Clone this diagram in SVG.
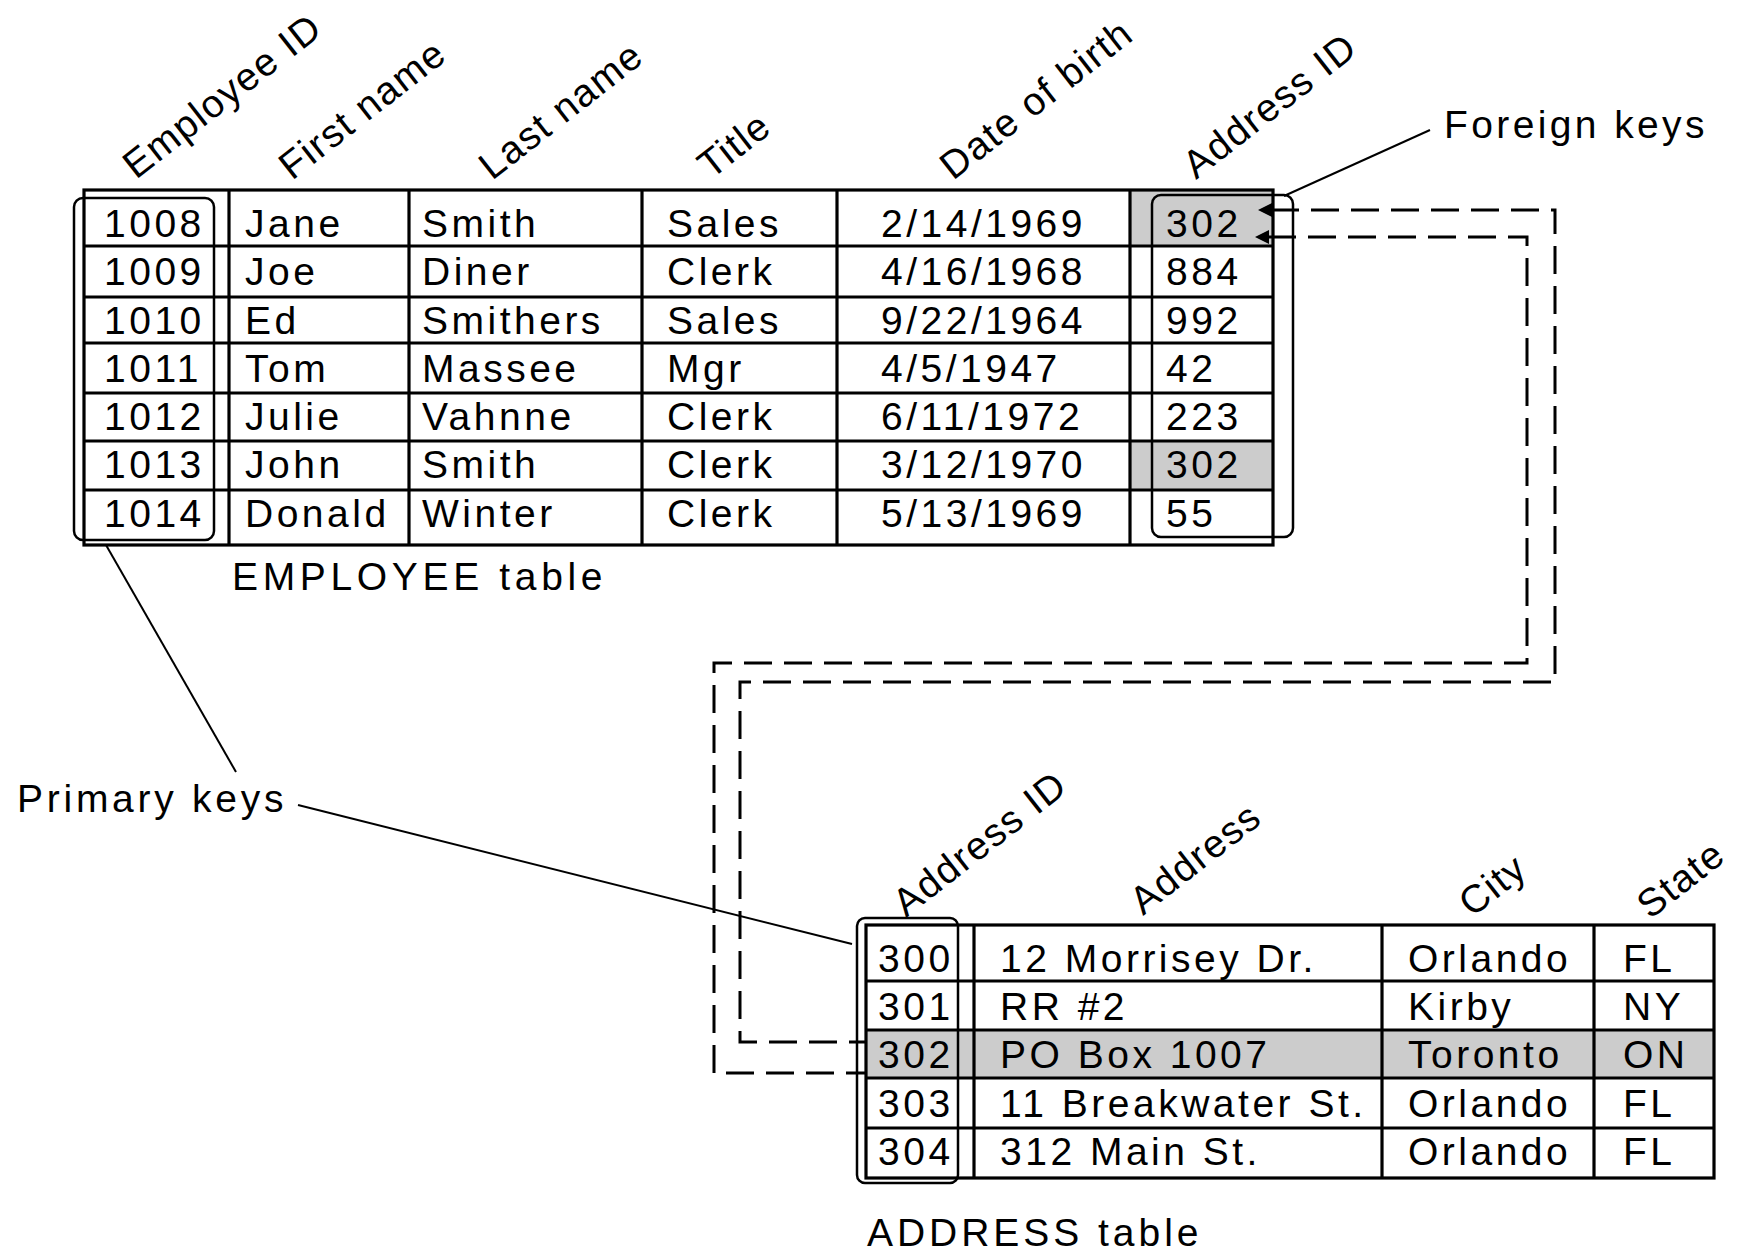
<svg xmlns="http://www.w3.org/2000/svg" width="1742" height="1252" viewBox="0 0 1742 1252">
<style>
  text { font-family: "Liberation Sans", Arial, sans-serif; font-size: 39px; letter-spacing: 3.5px; fill: #000; }
  .hdr { letter-spacing: 1.5px; }
  .grid { fill: none; stroke: #000; stroke-width: 3.2; }
  .line { stroke: #000; stroke-width: 3.2; }
  .shade { fill: #cccccc; }
  .key { fill: none; stroke: #000; stroke-width: 2.5; }
  .dash { fill: none; stroke: #000; stroke-width: 3; stroke-dasharray: 28 12; }
  .lead { fill: none; stroke: #000; stroke-width: 2; }
</style>
<defs>
  <marker id="tip" viewBox="0 0 14 14" refX="1" refY="7" markerWidth="14" markerHeight="14" markerUnits="userSpaceOnUse" orient="auto-start-reverse">
    <path d="M0,0 L14,7 L0,14 Z" fill="#000"/>
  </marker>
</defs>
<rect width="1742" height="1252" fill="#fff"/>

<g id="employee-table">
  <rect class="shade" x="1130" y="190" width="143" height="56"/>
  <rect class="shade" x="1130" y="441" width="143" height="49"/>
  <rect class="grid" x="84" y="190" width="1189" height="355"/>
  <g class="line">
    <line x1="229" y1="190" x2="229" y2="545"/>
    <line x1="409" y1="190" x2="409" y2="545"/>
    <line x1="642" y1="190" x2="642" y2="545"/>
    <line x1="837" y1="190" x2="837" y2="545"/>
    <line x1="1130" y1="190" x2="1130" y2="545"/>
    <line x1="84" y1="246" x2="1273" y2="246"/>
    <line x1="84" y1="297" x2="1273" y2="297"/>
    <line x1="84" y1="343" x2="1273" y2="343"/>
    <line x1="84" y1="393" x2="1273" y2="393"/>
    <line x1="84" y1="441" x2="1273" y2="441"/>
    <line x1="84" y1="490" x2="1273" y2="490"/>
  </g>
  <rect class="key" x="74" y="198" width="140" height="342" rx="9"/>
  <rect class="key" x="1152" y="195" width="141" height="342" rx="9"/>
  <g id="emp-headers" class="hdr">
    <text class="hdr" transform="translate(136,180) rotate(-38)">Employee ID</text>
    <text class="hdr" transform="translate(292,181) rotate(-38)">First name</text>
    <text class="hdr" transform="translate(492,181) rotate(-38)">Last name</text>
    <text class="hdr" transform="translate(711,180) rotate(-38)">Title</text>
    <text class="hdr" transform="translate(953,181) rotate(-38)">Date of birth</text>
    <text class="hdr" transform="translate(1196,180) rotate(-38)">Address ID</text>
  </g>
  <g id="emp-rows">
    <text x="104" y="237">1008</text><text x="245" y="237">Jane</text><text x="422" y="237">Smith</text><text x="667" y="237">Sales</text><text x="881" y="237">2/14/1969</text><text x="1166" y="237">302</text>
    <text x="104" y="285">1009</text><text x="245" y="285">Joe</text><text x="422" y="285">Diner</text><text x="667" y="285">Clerk</text><text x="881" y="285">4/16/1968</text><text x="1166" y="285">884</text>
    <text x="104" y="334">1010</text><text x="245" y="334">Ed</text><text x="422" y="334">Smithers</text><text x="667" y="334">Sales</text><text x="881" y="334">9/22/1964</text><text x="1166" y="334">992</text>
    <text x="104" y="382">1011</text><text x="245" y="382">Tom</text><text x="422" y="382">Massee</text><text x="667" y="382">Mgr</text><text x="881" y="382">4/5/1947</text><text x="1166" y="382">42</text>
    <text x="104" y="430">1012</text><text x="245" y="430">Julie</text><text x="422" y="430">Vahnne</text><text x="667" y="430">Clerk</text><text x="881" y="430">6/11/1972</text><text x="1166" y="430">223</text>
    <text x="104" y="478">1013</text><text x="245" y="478">John</text><text x="422" y="478">Smith</text><text x="667" y="478">Clerk</text><text x="881" y="478">3/12/1970</text><text x="1166" y="478">302</text>
    <text x="104" y="527">1014</text><text x="245" y="527">Donald</text><text x="422" y="527">Winter</text><text x="667" y="527">Clerk</text><text x="881" y="527">5/13/1969</text><text x="1166" y="527">55</text>
  </g>
  <text id="employee-caption" x="232" y="590" textLength="374">EMPLOYEE table</text>
</g>

<g id="address-table">
  <rect class="shade" x="866" y="1030" width="848" height="48"/>
  <rect class="grid" x="866" y="925" width="848" height="253"/>
  <g class="line">
    <line x1="974" y1="925" x2="974" y2="1178"/>
    <line x1="1382" y1="925" x2="1382" y2="1178"/>
    <line x1="1594" y1="925" x2="1594" y2="1178"/>
    <line x1="866" y1="981" x2="1714" y2="981"/>
    <line x1="866" y1="1030" x2="1714" y2="1030"/>
    <line x1="866" y1="1078" x2="1714" y2="1078"/>
    <line x1="866" y1="1128" x2="1714" y2="1128"/>
  </g>
  <rect class="key" x="857" y="918" width="101" height="265" rx="8"/>
  <g id="addr-headers">
    <text class="hdr" transform="translate(906,918) rotate(-38)">Address ID</text>
    <text class="hdr" transform="translate(1143,916) rotate(-38)">Address</text>
    <text class="hdr" transform="translate(1472,918) rotate(-38)">City</text>
    <text class="hdr" transform="translate(1650,920) rotate(-38)">State</text>
  </g>
  <g id="addr-rows">
    <text x="878" y="972">300</text><text x="1000" y="972">12 Morrisey Dr.</text><text x="1408" y="972">Orlando</text><text x="1623" y="972">FL</text>
    <text x="878" y="1020">301</text><text x="1000" y="1020">RR #2</text><text x="1408" y="1020">Kirby</text><text x="1623" y="1020">NY</text>
    <text x="878" y="1068">302</text><text x="1000" y="1068">PO Box 1007</text><text x="1408" y="1068">Toronto</text><text x="1623" y="1068">ON</text>
    <text x="878" y="1117">303</text><text x="1000" y="1117">11 Breakwater St.</text><text x="1408" y="1117">Orlando</text><text x="1623" y="1117">FL</text>
    <text x="878" y="1165">304</text><text x="1000" y="1165">312 Main St.</text><text x="1408" y="1165">Orlando</text><text x="1623" y="1165">FL</text>
  </g>
  <text id="address-caption" x="867" y="1246" textLength="335">ADDRESS table</text>
</g>

<g id="foreign-keys-label">
  <text x="1444" y="138" textLength="264">Foreign keys</text>
</g>
<g id="primary-keys-label">
  <text x="17" y="812" textLength="270">Primary keys</text>
</g>

<g id="connectors">
  <path class="dash" d="M1271,210 H1555 V682 H740 V1042 H866" marker-start="url(#tip)"/>
  <path class="dash" d="M1268,237 H1527 V663 H714 V1073 H866" marker-start="url(#tip)"/>
  <path class="lead" d="M1284,196 L1430,130"/>
  <path class="lead" d="M106,545 L236,772"/>
  <path class="lead" d="M298,805 L852,944"/>
</g>
</svg>
